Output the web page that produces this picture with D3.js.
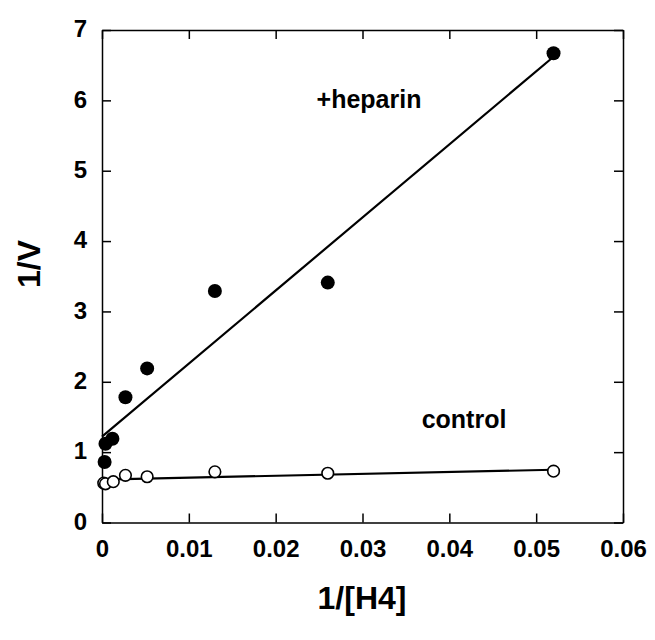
<!DOCTYPE html>
<html>
<head>
<meta charset="utf-8">
<script src="https://cdn.jsdelivr.net/npm/d3@7"></script>
<style>
  body { margin: 0; background: #fff; }
  text { font-family: "Liberation Sans", Arial, sans-serif; font-weight: bold; fill: #000; }
  .axis path, .axis line { stroke: #000; stroke-width: 1.5; }
</style>
</head>
<body>
<script>
// data
var heparinX = [0.0003, 0.0004, 0.0012, 0.0027, 0.0052, 0.013, 0.026, 0.052];
var heparinY = [0.86, 1.12, 1.19, 1.78, 2.19, 3.29, 3.41, 6.67];
var controlX = [0.0002, 0.0004, 0.0013, 0.0027, 0.0052, 0.013, 0.026, 0.052];
var controlY = [0.56, 0.55, 0.58, 0.67, 0.65, 0.72, 0.70, 0.73];
// fitted lines (end points)
var fitX = [0, 0.052];
var heparinFitY = [1.22, 6.62];
var controlFitY = [0.61, 0.75];

var xTicks = [0, 0.01, 0.02, 0.03, 0.04, 0.05, 0.06];
var yTicks = [0, 1, 2, 3, 4, 5, 6, 7];

var svg = d3.select("body").append("svg").attr("width", 655).attr("height", 640);

var x = d3.scaleLinear().domain([0, 0.06]).range([102, 623]);
var y = d3.scaleLinear().domain([0, 7]).range([522.5, 30]);

// axes, ticks pointing inward
var gx = svg.append("g").attr("class", "axis").attr("transform", "translate(0," + y(0) + ")")
  .call(d3.axisBottom(x).tickValues(xTicks).tickSize(-9).tickSizeOuter(0).tickPadding(17)
    .tickFormat(function (d) { return d === 0 ? "0" : d3.format(".2f")(d); }));
gx.selectAll("text").style("font-size", "24px").attr("dy", "0.71em");

var gy = svg.append("g").attr("class", "axis").attr("transform", "translate(" + x(0) + ",0)")
  .call(d3.axisLeft(y).tickValues(yTicks).tickSize(-9).tickSizeOuter(0).tickPadding(15).tickFormat(d3.format("d")));
gy.selectAll("text").style("font-size", "24px").attr("dy", "0.28em");

svg.append("g").attr("class", "axis").attr("transform", "translate(0," + y(7) + ")")
  .call(d3.axisTop(x).tickValues(xTicks).tickSize(-9).tickSizeOuter(0).tickFormat(""));
svg.append("g").attr("class", "axis").attr("transform", "translate(" + x(0.06) + ",0)")
  .call(d3.axisRight(y).tickValues(yTicks).tickSize(-9).tickSizeOuter(0).tickFormat(""));

// fit lines
var line = d3.line().x(function (d) { return x(d[0]); }).y(function (d) { return y(d[1]); });
svg.append("path").attr("d", line(d3.zip(fitX, heparinFitY)))
  .attr("fill", "none").attr("stroke", "#000").attr("stroke-width", 2.2);
svg.append("path").attr("d", line(d3.zip(fitX, controlFitY)))
  .attr("fill", "none").attr("stroke", "#000").attr("stroke-width", 2.2);

// control: open circles
svg.append("g").selectAll("circle").data(d3.zip(controlX, controlY)).enter().append("circle")
  .attr("cx", function (d) { return x(d[0]); })
  .attr("cy", function (d) { return y(d[1]); })
  .attr("r", 5.8).attr("fill", "#fff").attr("stroke", "#000").attr("stroke-width", 1.6);

// heparin: filled circles
svg.append("g").selectAll("circle").data(d3.zip(heparinX, heparinY)).enter().append("circle")
  .attr("cx", function (d) { return x(d[0]); })
  .attr("cy", function (d) { return y(d[1]); })
  .attr("r", 7).attr("fill", "#000");

// labels
svg.append("text").attr("x", 369).attr("y", 108).attr("text-anchor", "middle")
  .style("font-size", "25px").text("+heparin");
svg.append("text").attr("x", 464).attr("y", 428).attr("text-anchor", "middle")
  .style("font-size", "25px").text("control");
svg.append("text").attr("x", 362).attr("y", 609).attr("text-anchor", "middle")
  .style("font-size", "32px").text("1/[H4]");
svg.append("text").attr("transform", "translate(40,264) rotate(-90)").attr("text-anchor", "middle")
  .style("font-size", "32px").text("1/V");
</script>
</body>
</html>
